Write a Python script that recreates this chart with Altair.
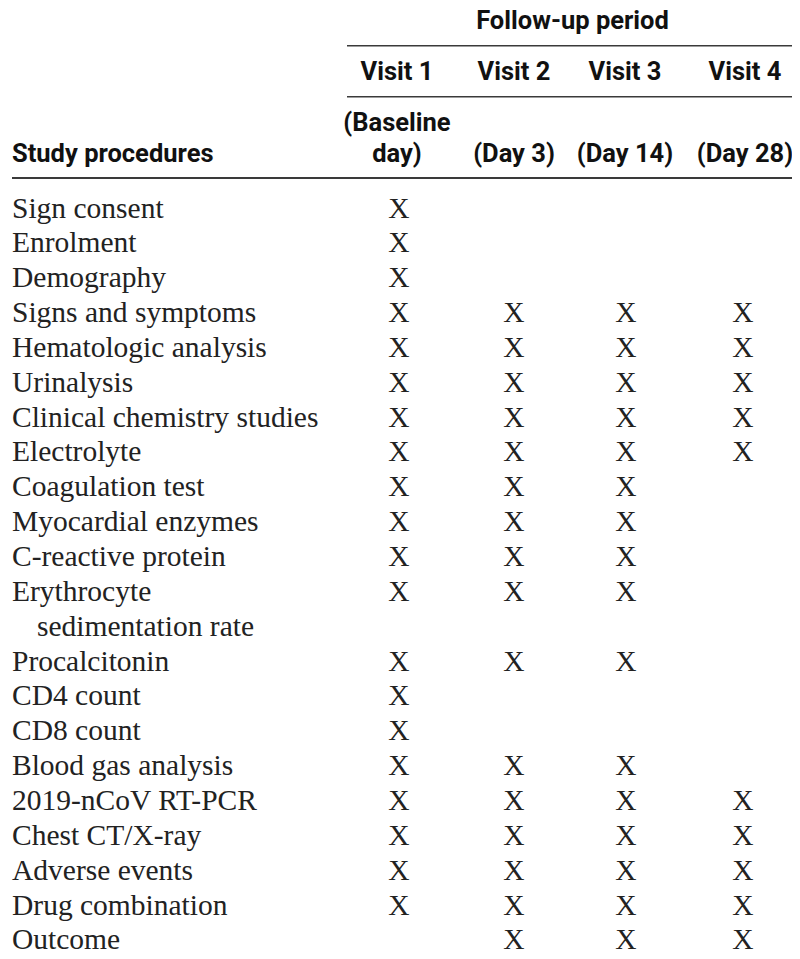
import altair as alt
import pandas as pd

# ---------------- data ----------------
procedures = [
    ["Sign consent"], ["Enrolment"], ["Demography"], ["Signs and symptoms"],
    ["Hematologic analysis"], ["Urinalysis"], ["Clinical chemistry studies"],
    ["Electrolyte"], ["Coagulation test"], ["Myocardial enzymes"],
    ["C-reactive protein"], ["Erythrocyte", "sedimentation rate"], ["Procalcitonin"],
    ["CD4 count"], ["CD8 count"], ["Blood gas analysis"], ["2019-nCoV RT-PCR"],
    ["Chest CT/X-ray"], ["Adverse events"], ["Drug combination"], ["Outcome"],
]
visit_labels = ["Visit 1", "Visit 2", "Visit 3", "Visit 4"]
day_labels = [["(Baseline", "day)"], ["(Day 3)"], ["(Day 14)"], ["(Day 28)"]]
group_title = "Follow-up period"
stub_title = "Study procedures"

visit1 = [1,1,1,1,1,1,1,1,1,1,1,1,1,1,1,1,1,1,1,1,0]
visit2 = [0,0,0,1,1,1,1,1,1,1,1,1,1,0,0,1,1,1,1,1,1]
visit3 = [0,0,0,1,1,1,1,1,1,1,1,1,1,0,0,1,1,1,1,1,1]
visit4 = [0,0,0,1,1,1,1,1,0,0,0,0,0,0,0,0,1,1,1,1,1]
visits = [visit1, visit2, visit3, visit4]

# ---------------- layout ----------------
W, H = 784, 943
col_hdr = [397, 514, 625, 745]
col_x = [399, 514, 626, 743]
label_x = 12
indent = 25
row0 = 217.5
pitch = 34.85

body_rows, x_rows = [], []
line = 0
for i, lines in enumerate(procedures):
    for j, t in enumerate(lines):
        body_rows.append({"x": label_x + (indent if j else 0), "y": row0 + line * pitch, "text": t})
        if j == 0:
            for c, v in enumerate(visits):
                if v[i]:
                    x_rows.append({"x": col_x[c], "y": row0 + line * pitch, "text": "X"})
        line += 1

hdr_rows = [{"x": 572.5, "y": 28.5, "text": group_title}]
for c, v in enumerate(visit_labels):
    hdr_rows.append({"x": col_hdr[c], "y": 80, "text": v})
for c, d in enumerate(day_labels):
    if len(d) == 2:
        hdr_rows.append({"x": col_hdr[c], "y": 131, "text": d[0]})
        hdr_rows.append({"x": col_hdr[c], "y": 162, "text": d[1]})
    else:
        hdr_rows.append({"x": col_hdr[c], "y": 162, "text": d[0]})
stub_rows = [{"x": label_x, "y": 162, "text": stub_title}]

rules = pd.DataFrame([
    {"x": 347, "x2": 792, "y": 45.7, "w": 1.4},
    {"x": 347, "x2": 792, "y": 96.7, "w": 1.4},
    {"x": 12, "x2": 792, "y": 178, "w": 2.0},
])

xs = alt.Scale(domain=[8, 8 + W], range=[0, W], nice=False, zero=False)
ys = alt.Scale(domain=[8, 8 + H], range=[0, H], nice=False, zero=False)

HFONT = "Roboto, Liberation Sans, sans-serif"
HSIZE = 25.5
BFONT = "Liberation Serif, Times New Roman, serif"
BSIZE = 29.5


def txt(rows, font, size, align, weight="normal", color="#1a1a1a"):
    return alt.Chart(pd.DataFrame(rows)).mark_text(
        font=font, fontSize=size, align=align, baseline="alphabetic",
        fontWeight=weight, color=color,
    ).encode(
        x=alt.X("x:Q", scale=xs, axis=None),
        y=alt.Y("y:Q", scale=ys, axis=None),
        text="text:N",
    )


rule_layer = alt.Chart(rules).mark_rule(color="#3a3a3a").encode(
    x=alt.X("x:Q", scale=xs, axis=None),
    x2="x2:Q",
    y=alt.Y("y:Q", scale=ys, axis=None),
    strokeWidth=alt.StrokeWidth("w:Q", scale=None, legend=None),
)

chart = alt.layer(
    rule_layer,
    txt(hdr_rows, HFONT, HSIZE, "center", "bold", color="#111111"),
    txt(stub_rows, HFONT, HSIZE, "left", "bold", color="#111111"),
    txt(body_rows, BFONT, BSIZE, "left", color="#222222"),
    txt(x_rows, BFONT, BSIZE, "center", color="#222222"),
).properties(
    width=W, height=H, padding=0,
    autosize=alt.AutoSizeParams(type="none"),
).configure_view(stroke=None)

chart.save("out.html", embed_options={"renderer": "svg", "actions": False})
